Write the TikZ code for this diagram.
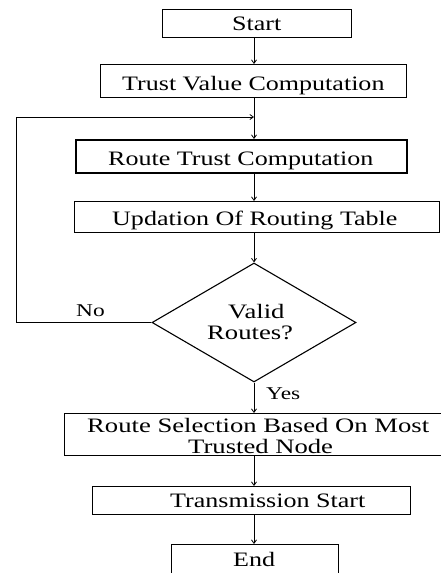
\documentclass[tikz,border=0pt]{standalone}
\usepackage{fontspec}
\setmainfont{Liberation Serif}
\usetikzlibrary{shapes.geometric,arrows.meta}
\newcommand{\wide}[2][1.3]{\scalebox{#1}[1]{#2}}
\begin{document}
\begin{tikzpicture}[x=1pt,y=-1pt,
  box/.style={draw, line width=1.1pt, inner sep=0pt, anchor=north west},
  txt/.style={anchor=base west, inner sep=0pt, font=\fontsize{20.5}{24}\selectfont},
  lbl/.style={anchor=base west, inner sep=0pt, font=\fontsize{18}{21}\selectfont},
  arr/.style={-{Straight Barb[length=3.5pt,width=5pt]}, line width=0.8pt}]
\useasboundingbox (0,0) rectangle (441,573);
\coordinate (ax) at (254,0);
% boxes
\node[box, minimum width=189pt, minimum height=28pt] (start) at (162,9) {};
\node[box, minimum width=306pt, minimum height=33pt] (tvc) at (100,64) {};
\node[box, line width=1.8pt, minimum width=331pt, minimum height=33pt] (rtc) at (75,139) {};
\node[box, minimum width=365pt, minimum height=31pt] (upd) at (74,201) {};
\node[draw, diamond, line width=1.1pt, minimum width=204pt, minimum height=119pt, inner sep=0pt] (dia) at (254,322.5) {};
\node[box, minimum width=376.5pt, minimum height=42pt] (rs) at (64,413) {};
\node[box, minimum width=318pt, minimum height=28pt] (ts) at (92,486) {};
\node[box, minimum width=167pt, minimum height=28.5pt] (en) at (171,544) {};
% texts
\node[txt] (t1) at (232,30) {\wide[1.27]{Start}};
\node[txt] (t2) at (122,90.5) {\wide[1.27]{Trust Value Computation}};
\node[txt] (t3) at (108,165) {\wide[1.27]{Route Trust Computation}};
\node[txt] (t4) at (112,225) {\wide[1.27]{Updation Of Routing Table}};
\node[txt] (t5a) at (228,318) {\wide[1.3]{Valid}};
\node[txt] (t5b) at (207,339) {\wide[1.3]{Routes?}};
\node[txt] (t6a) at (87,432) {\wide[1.3]{Route Selection Based On Most}};
\node[txt] (t6b) at (188,453) {\wide[1.3]{Trusted Node}};
\node[txt] (t7) at (170,507) {\wide[1.27]{Transmission Start}};
\node[txt] (t8) at (233,566) {\wide[1.27]{End}};
\node[lbl] (no) at (76,316) {\wide[1.3]{No}};
\node[lbl] (yes) at (266,399) {\wide[1.3]{Yes}};
% connectors
\coordinate (lc) at (16,117);
\coordinate (join) at (254,117);
\draw[arr] (start.south -| ax) -- (tvc.north -| ax);
\draw[arr] (tvc.south -| ax) -- (rtc.north -| ax);
\draw[arr] (rtc.south -| ax) -- (upd.north -| ax);
\draw[arr] (upd.south -| ax) -- (dia.north);
\draw[arr] (dia.south) -- (rs.north -| ax);
\draw[arr] (rs.south -| ax) -- (ts.north -| ax);
\draw[arr] (ts.south -| ax) -- (en.north -| ax);
\draw[arr] (dia.west) -| (lc) -- (join);
\end{tikzpicture}
\end{document}
